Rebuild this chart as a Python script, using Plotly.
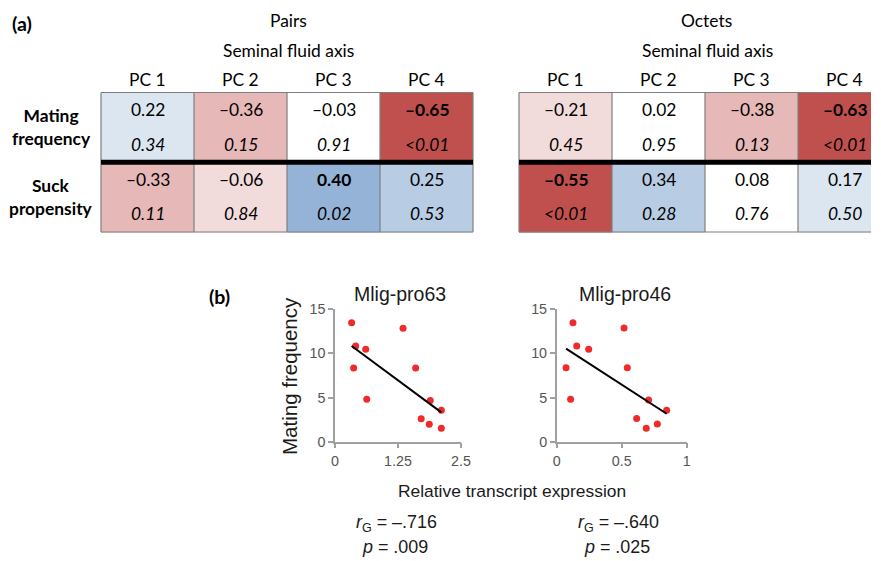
import plotly.graph_objects as go

# ---------------- data ----------------
pcs = ["PC 1", "PC 2", "PC 3", "PC 4"]
row_labels = ["Mating<br>frequency", "Suck<br>propensity"]

pairs_r = [[0.22, -0.36, -0.03, -0.65],
           [-0.33, -0.06, 0.40, 0.25]]
pairs_p = [["0.34", "0.15", "0.91", "<0.01"],
           ["0.11", "0.84", "0.02", "0.53"]]
pairs_shade = [[1, -2, 0, -3],
               [-2, -1, 3, 2]]

octets_r = [[-0.21, 0.02, -0.38, -0.63],
            [-0.55, 0.34, 0.08, 0.17]]
octets_p = [["0.45", "0.95", "0.13", "<0.01"],
            ["<0.01", "0.28", "0.76", "0.50"]]
octets_shade = [[-1, 0, -2, -3],
                [-3, 2, 0, 1]]

mating_freq = [13.48, 10.84, 10.46, 8.35, 4.8, 12.84, 8.35, 4.68, 3.55, 2.61, 1.97, 1.51]
pro63_expr = [0.33, 0.41, 0.61, 0.37, 0.63, 1.35, 1.60, 1.89, 2.11, 1.71, 1.87, 2.11]
pro63_fit_x = [0.33, 2.11]
pro63_fit_y = [10.84, 3.32]

mating_freq46 = [13.48, 10.84, 10.46, 8.38, 4.8, 12.88, 8.38, 4.72, 3.55, 2.64, 1.51, 2.0]
pro46_expr = [0.125, 0.154, 0.246, 0.072, 0.107, 0.518, 0.543, 0.707, 0.846, 0.615, 0.689, 0.774]
pro46_fit_x = [0.072, 0.846]
pro46_fit_y = [10.54, 3.17]

pro63_stats = ("–.716", ".009")
pro46_stats = ("–.640", ".025")

# ---------------- helpers ----------------
# Positions are read in reference-picture pixels and mapped onto the figure,
# compensating the slight offset/scale with which the page is photographed.
W, H = 881, 561
X0, XS = 4, 867      # picture x of paper 0, picture px per paper width
Y0, YS = 7, 545      # picture y of paper top, picture px per paper height
K = 1.024            # font-size compensation for the display scale
def px(x):
    return min(max((x - X0) / XS, 0), 1)
def py(y):
    return min(max(1 - (y - Y0) / YS, 0), 1)
def fs(s):
    return round(s * K, 1)

TFONT = "Lato, 'Open Sans', sans-serif"
SFONT = "'Liberation Sans', Arial, sans-serif"
NFONT = "'Liberation Sans Narrow', 'Liberation Sans', Arial, sans-serif"

shade_colors = ["#c0504d", "#e6b8b7", "#f2dcdb", "#ffffff", "#dce6f1", "#b8cce4", "#95b3d7"]
cs = []
n = len(shade_colors)
for i, c in enumerate(shade_colors):
    cs.append([i / n, c])
    cs.append([(i + 1) / n, c])

def fmt(v):
    return f"{v:.2f}".replace("-", "–")

def significant(p):
    return p.startswith("<") or float(p) < 0.05

def ann(x, y, text, font, xref="paper", yref="paper", **kw):
    d = dict(x=x, y=y, xref=xref, yref=yref, text=text, showarrow=False,
             xanchor="center", yanchor="middle", font=font)
    d.update(kw)
    return d

tf = dict(family=TFONT, size=fs(17), color="#000")
sf = dict(family=SFONT, size=fs(19), color="#1a1a1a")
stf = dict(family=SFONT, size=fs(17.5), color="#1a1a1a")

fig = go.Figure()
annotations = []
shapes = []

col_w = 93.0
row_top, row_bot = 91.5, 231.0
pad = 0.05
row_h = (row_bot - row_top) / 2

def add_table(r, p, shade, xa, ya):
    fig.add_trace(go.Heatmap(
        z=shade, x=list(range(len(pcs))), y=[0, 1],
        colorscale=cs, zmin=-3.5, zmax=3.5, showscale=False,
        hoverinfo="skip", xaxis=xa, yaxis=ya))
    for i in range(2):
        for j in range(len(pcs)):
            txt = fmt(r[i][j])
            if significant(p[i][j]):
                txt = f"<b>{txt}</b>"
            annotations.append(ann(j, i - 0.255, txt, tf, xref=xa, yref=ya))
            annotations.append(ann(j, i + 0.24, f"<i>{p[i][j]}</i>", tf, xref=xa, yref=ya))
    for j in range(len(pcs) + 1):
        shapes.append(dict(type="line", xref=xa, yref=ya, x0=j - 0.5, x1=j - 0.5,
                           y0=-0.5, y1=1.5, line=dict(color="#7f7f7f", width=1.2), layer="above"))
    for yy in (-0.5, 1.5):
        shapes.append(dict(type="line", xref=xa, yref=ya, x0=-0.5, x1=len(pcs) - 0.5,
                           y0=yy, y1=yy, line=dict(color="#7f7f7f", width=1.2), layer="above"))
    shapes.append(dict(type="line", xref=xa, yref=ya, x0=-0.5, x1=len(pcs) - 0.5,
                       y0=0.5, y1=0.5, line=dict(color="#000000", width=5), layer="above"))
    for j, lab in enumerate(pcs):
        annotations.append(ann(j, py(78), lab, tf, xref=xa, yref="paper"))

add_table(pairs_r, pairs_p, pairs_shade, "x3", "y3")
add_table(octets_r, octets_p, octets_shade, "x4", "y4")

bf = dict(family=TFONT, size=fs(17), color="#000")
for i, lab in enumerate(row_labels):
    annotations.append(ann(px(51), i, f"<b>{lab}</b>", bf, yref="y3"))

annotations += [
    ann(px(10), py(22), "<b>(a)</b>", dict(family=TFONT, size=fs(19), color="#000"), xanchor="left"),
    ann(px(288), py(19), "Pairs", tf),
    ann(px(288), py(49), "Seminal fluid axis", tf),
    ann(px(706), py(19), "Octets", tf),
    ann(px(707), py(49), "Seminal fluid axis", tf),
]

fig.add_trace(go.Scatter(x=pro63_expr, y=mating_freq, mode="markers",
                         marker=dict(color="#ee2a2a", size=7), xaxis="x", yaxis="y",
                         showlegend=False, hoverinfo="skip"))
fig.add_trace(go.Scatter(x=pro63_fit_x, y=pro63_fit_y, mode="lines",
                         line=dict(color="#000", width=2), xaxis="x", yaxis="y",
                         showlegend=False, hoverinfo="skip"))
fig.add_trace(go.Scatter(x=pro46_expr, y=mating_freq46, mode="markers",
                         marker=dict(color="#ee2a2a", size=7), xaxis="x2", yaxis="y2",
                         showlegend=False, hoverinfo="skip"))
fig.add_trace(go.Scatter(x=pro46_fit_x, y=pro46_fit_y, mode="lines",
                         line=dict(color="#000", width=2), xaxis="x2", yaxis="y2",
                         showlegend=False, hoverinfo="skip"))

axis_common = dict(showline=True, linecolor="#a0a0a0", linewidth=1.5, ticks="outside",
                   ticklen=5, tickcolor="#a0a0a0", tickwidth=1.5, showgrid=False, zeroline=False,
                   tickfont=dict(family=NFONT, size=fs(14), color="#555"))

sy0, sy1 = 440.7, 308.3
x4_left = 519 - pad * col_w
fig.update_layout(
    xaxis=dict(domain=[px(335), px(461)], range=[0, 2.5], tickvals=[0, 1.25, 2.5],
               ticktext=["0", "1.25", "2.5"], anchor="y", **axis_common),
    yaxis=dict(domain=[py(sy0), py(sy1)], range=[0, 15], tickvals=[0, 5, 10, 15],
               anchor="x", **axis_common),
    xaxis2=dict(domain=[px(556.7), px(686.7)], range=[0, 1], tickvals=[0, 0.5, 1],
                ticktext=["0", "0.5", "1"], anchor="y2", **axis_common),
    yaxis2=dict(domain=[py(sy0), py(sy1)], range=[0, 15], tickvals=[0, 5, 10, 15],
                anchor="x2", **axis_common),
    xaxis3=dict(domain=[px(101 - pad * col_w), px(101 + 4 * col_w + pad * col_w)],
                range=[-0.5 - pad, 3.5 + pad], visible=False, anchor="y3"),
    yaxis3=dict(domain=[py(row_bot + pad * row_h), py(row_top - pad * row_h)],
                range=[1.5 + pad, -0.5 - pad], visible=False, anchor="x3"),
    xaxis4=dict(domain=[px(x4_left), 1],
                range=[-0.5 - pad, -0.5 - pad + (1 - px(x4_left)) * XS / col_w],
                visible=False, anchor="y4"),
    yaxis4=dict(domain=[py(row_bot + pad * row_h), py(row_top - pad * row_h)],
                range=[1.5 + pad, -0.5 - pad], visible=False, anchor="x4"),
)

annotations += [
    ann(px(207), py(295), "<b>(b)</b>", dict(family=TFONT, size=fs(19), color="#000"), xanchor="left"),
    ann(px(400), py(293), "Mlig-pro63", sf),
    ann(px(625), py(293), "Mlig-pro46", sf),
    ann(px(289), py(375), "Mating frequency", dict(family=SFONT, size=fs(20), color="#1a1a1a"),
        textangle=-90),
    ann(px(512), py(490), "Relative transcript expression",
        dict(family=SFONT, size=fs(17), color="#1a1a1a")),
    ann(px(396), py(522), f"<i>r</i><sub>G</sub> = {pro63_stats[0]}", stf),
    ann(px(395), py(546), f"<i>p</i> = {pro63_stats[1]}", stf),
    ann(px(618), py(522), f"<i>r</i><sub>G</sub> = {pro46_stats[0]}", stf),
    ann(px(617), py(546), f"<i>p</i> = {pro46_stats[1]}", stf),
]

fig.update_layout(width=W, height=H, margin=dict(l=0, r=0, t=0, b=0),
                  paper_bgcolor="white", plot_bgcolor="rgba(0,0,0,0)",
                  annotations=annotations, shapes=shapes, showlegend=False)

fig.write_html("out.html", config={"displayModeBar": False},
               post_script="document.body.style.margin='0px';document.body.style.overflow='hidden';")
